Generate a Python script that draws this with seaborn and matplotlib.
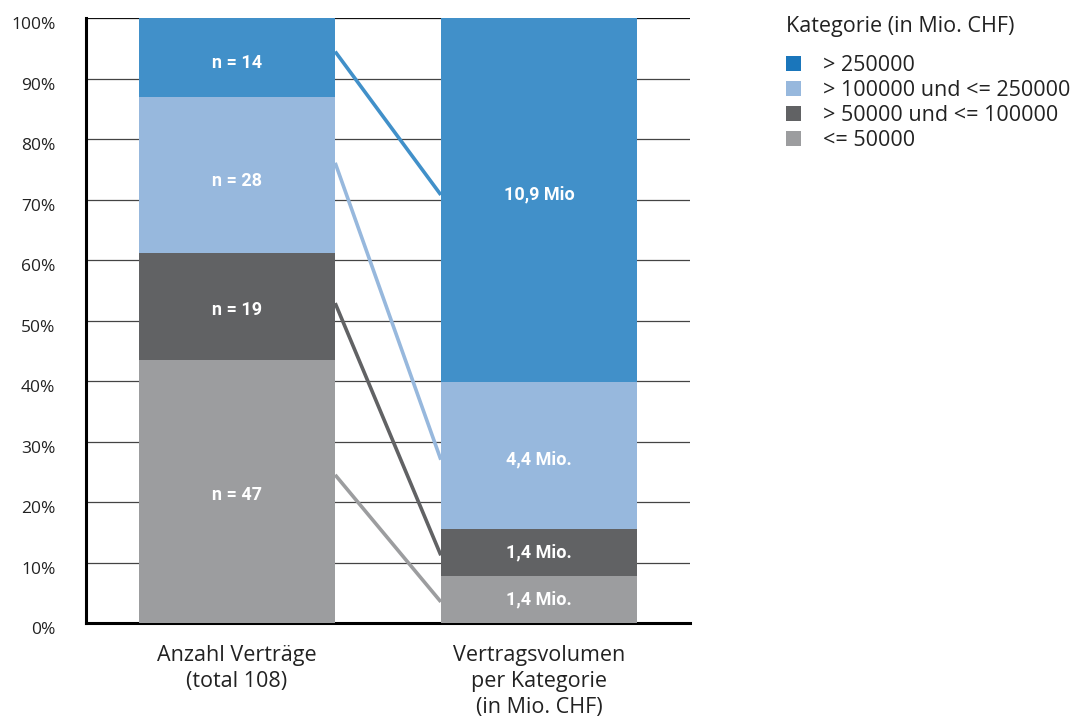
import numpy as np
import pandas as pd
import matplotlib
matplotlib.use("Agg")
import matplotlib.pyplot as plt
import matplotlib.transforms as mtransforms
from matplotlib.patches import Patch
import seaborn as sns

# ---------------- data ----------------
categories = ["Anzahl Verträge\n(total 108)",
              "Vertragsvolumen\nper Kategorie\n(in Mio. CHF)"]
levels = ["> 250000", "> 100000 und <= 250000", "> 50000 und <= 100000", "<= 50000"]
counts = [14, 28, 19, 47]           # Anzahl Verträge per level
volumes = [10.9, 4.4, 1.4, 1.4]     # Vertragsvolumen (Mio. CHF) per level
count_labels = ["n = 14", "n = 28", "n = 19", "n = 47"]
volume_labels = ["10,9 Mio", "4,4 Mio.", "1,4 Mio.", "1,4 Mio."]
# label heights (% of bar)
count_label_pos = [92.6, 73.1, 51.8, 21.2]
volume_label_pos = [70.8, 27.0, 11.6, 3.9]
# connector line end points (% of bar)
link_start = [94.5, 76.1, 52.9, 24.5]
link_end = [70.8, 27.0, 11.2, 3.5]
yticks = [0, 10, 20, 30, 40, 50, 60, 70, 80, 90, 100]

bar_colors = ["#4190c9", "#97b8dd", "#616264", "#9c9d9f"]
legend_colors = ["#1a76bb", "#97b8dd", "#616264", "#9c9d9f"]

# ---------------- prep ----------------
count_share = np.array(counts) / np.sum(counts) * 100
vol_share = np.array(volumes) / np.sum(volumes) * 100
count_top = np.cumsum(count_share[::-1])[::-1]
vol_top = np.cumsum(vol_share[::-1])[::-1]

sns.set_theme(style="white")
plt.rcParams["font.family"] = ["Open Sans", "DejaVu Sans"]
text_color = "#222222"

fig = plt.figure(figsize=(10.86, 7.2), dpi=100)
ax = fig.add_axes([86 / 1086, 1 - 623 / 720, (690 - 86) / 1086, (623 - 18.3) / 720])

bar_w = 0.65
for i, lev in enumerate(levels):
    df = pd.DataFrame({"cat": categories, "top": [count_top[i], vol_top[i]]})
    sns.barplot(data=df, x="cat", y="top", order=categories, color=bar_colors[i],
                width=bar_w, saturation=1, ax=ax, zorder=3, linewidth=0)

lbl_font = dict(family=["Roboto", "DejaVu Sans"], fontsize=13, fontweight="bold")
for i in range(len(levels)):
    ax.text(0, count_label_pos[i], count_labels[i], ha="center", va="center",
            color="white", zorder=5, **lbl_font)
    ax.text(1, volume_label_pos[i], volume_labels[i], ha="center", va="center",
            color="white", zorder=5, **lbl_font)

for i in range(len(levels)):
    ax.plot([bar_w / 2, 1 - bar_w / 2], [link_start[i], link_end[i]],
            color=bar_colors[i], lw=2.6, zorder=4, solid_capstyle="butt")

for t in yticks[1:]:
    ax.axhline(t, color="#111111" if t == 100 else "#444444", lw=0.9, zorder=1)

ax.set_xlim(-0.5, 1.5)
ax.set_ylim(0, 100)
ax.set_yticks(yticks)
ax.set_yticklabels([f"{t}%" for t in yticks], fontsize=12.5, color=text_color)
ax.tick_params(axis="y", length=0, pad=22)
ax.tick_params(axis="x", length=0, pad=16)
ax.set_xticks([0, 1])
ax.set_xticklabels(categories, fontsize=15.5, color=text_color, linespacing=1.32, va="top")
off = mtransforms.ScaledTranslation(0, -5 / 100, fig.dpi_scale_trans)
for lab in ax.get_yticklabels():
    lab.set_transform(lab.get_transform() + off)
ax.set_xlabel("")
ax.set_ylabel("")
for s in ["top", "right"]:
    ax.spines[s].set_visible(False)
ax.spines["left"].set_linewidth(2.2)
ax.spines["bottom"].set_linewidth(2.2)
ax.spines["left"].set_color("black")
ax.spines["bottom"].set_color("black")
ax.set_facecolor("white")

handles = [Patch(facecolor=c, edgecolor="none") for c in legend_colors]
leg = fig.legend(handles, levels, title="Kategorie (in Mio. CHF)", loc="upper left",
                 bbox_to_anchor=(786 / 1086, 1 - 16 / 720), frameon=False,
                 fontsize=15.5, title_fontsize=15.5, alignment="left",
                 handlelength=0.7, handleheight=0.7, handletextpad=1.0,
                 labelspacing=0.18, borderpad=0, borderaxespad=0)
leg._legend_box.sep = 13
for t in leg.get_texts():
    t.set_color(text_color)
leg.get_title().set_color(text_color)

fig.savefig("out.png", dpi=100, facecolor="white")
